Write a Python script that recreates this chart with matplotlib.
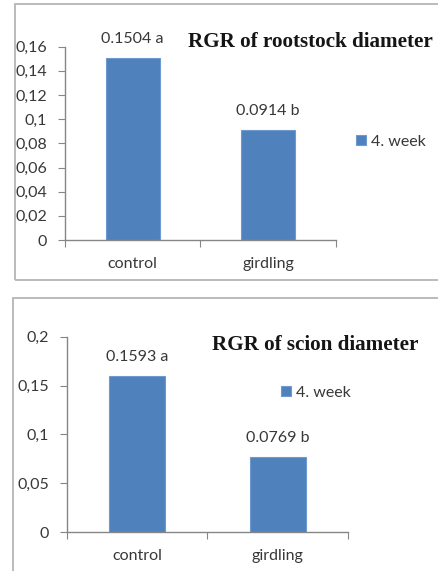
import matplotlib.pyplot as plt
from matplotlib.patches import Rectangle

# data
categories = ['control', 'girdling']
rootstock = [0.1504, 0.0914]
rootstock_labels = ['0.1504 a', '0.0914 b']
scion = [0.1593, 0.0769]
scion_labels = ['0.1593 a', '0.0769 b']
series_name = '4. week'

root_yticks = [0, 0.02, 0.04, 0.06, 0.08, 0.1, 0.12, 0.14, 0.16]
root_yticklabels = ['0', '0,02', '0,04', '0,06', '0,08', '0,1', '0,12', '0,14', '0,16']
scion_yticks = [0, 0.05, 0.1, 0.15, 0.2]
scion_yticklabels = ['0', '0,05', '0,1', '0,15', '0,2']

W, H = 439, 571
bar_color = '#4F81BD'
axis_color = '#868686'
text_color = '#383838'
fs = 11.5

plt.rcParams['font.family'] = ['Lato', 'DejaVu Sans']

fig = plt.figure(figsize=(W / 100, H / 100), dpi=100)


def px_box(x0, y_top, x1, y_bot):
    # pixel box -> figure fraction [left, bottom, width, height]
    return [x0 / W, 1 - y_bot / H, (x1 - x0) / W, (y_bot - y_top) / H]


def panel(box, values, labels, yticks, yticklabels, title, title_xy, leg_xy):
    ax = fig.add_axes(box)
    x = range(len(categories))
    bars = ax.bar(x, values, width=0.4, color=bar_color, edgecolor='#6E9AD0',
                  linewidth=0.8, label=series_name, zorder=2)
    for b, lab in zip(bars, labels):
        ax.annotate(lab, (b.get_x() + b.get_width() / 2, b.get_height()),
                    xytext=(0, 19), textcoords='offset pixels',
                    ha='center', va='center', fontsize=fs, color=text_color)
    ax.set_xlim(-0.5, len(categories) - 0.5)
    ax.set_ylim(yticks[0], yticks[-1])
    ax.set_yticks(yticks)
    ax.set_yticklabels(yticklabels)
    ax.set_xticks([-0.5, 0.5, 1.5])
    ax.set_xticklabels([])
    ax.set_xticks(list(x), minor=True)
    ax.set_xticklabels(categories, minor=True)
    ax.tick_params(axis='x', which='major', length=5, color=axis_color, direction='out')
    ax.tick_params(axis='x', which='minor', length=0, pad=12, labelsize=fs,
                   labelcolor=text_color)
    ax.tick_params(axis='y', length=5, color=axis_color, pad=8, labelsize=fs,
                   labelcolor=text_color)
    for s in ['top', 'right']:
        ax.spines[s].set_visible(False)
    for s in ['left', 'bottom']:
        ax.spines[s].set_color(axis_color)
        ax.spines[s].set_linewidth(1.0)
    ax.patch.set_visible(False)
    fig.text(title_xy[0] / W, 1 - title_xy[1] / H, title, ha='left', va='center',
             fontsize=15.2, fontweight='bold', family='Liberation Serif', color='#151515')
    ax.legend(loc='center left', bbox_to_anchor=(leg_xy[0] / W, 1 - leg_xy[1] / H),
              bbox_transform=fig.transFigure, frameon=False, fontsize=fs,
              handlelength=0.6, handleheight=0.6, handletextpad=0.35,
              borderpad=0, borderaxespad=0, labelcolor=text_color)
    return ax


# panel borders
fig.patches.append(Rectangle((15 / W, 1 - 280 / H), 440 / W, 275.5 / H,
                             transform=fig.transFigure, fill=False,
                             edgecolor='#B5B5B5', linewidth=1.3))
fig.patches.append(Rectangle((13.5 / W, 1 - 590 / H), 440 / W, 292 / H,
                             transform=fig.transFigure, fill=False,
                             edgecolor='#B5B5B5', linewidth=1.3))

panel(px_box(65, 46.7, 336, 240), rootstock, rootstock_labels, root_yticks,
      root_yticklabels, 'RGR of rootstock diameter', (188, 42), (356, 142))
panel(px_box(67, 336.7, 348, 532), scion, scion_labels, scion_yticks,
      scion_yticklabels, 'RGR of scion diameter', (212, 345), (281, 393))

fig.savefig('out.png', dpi=100)
